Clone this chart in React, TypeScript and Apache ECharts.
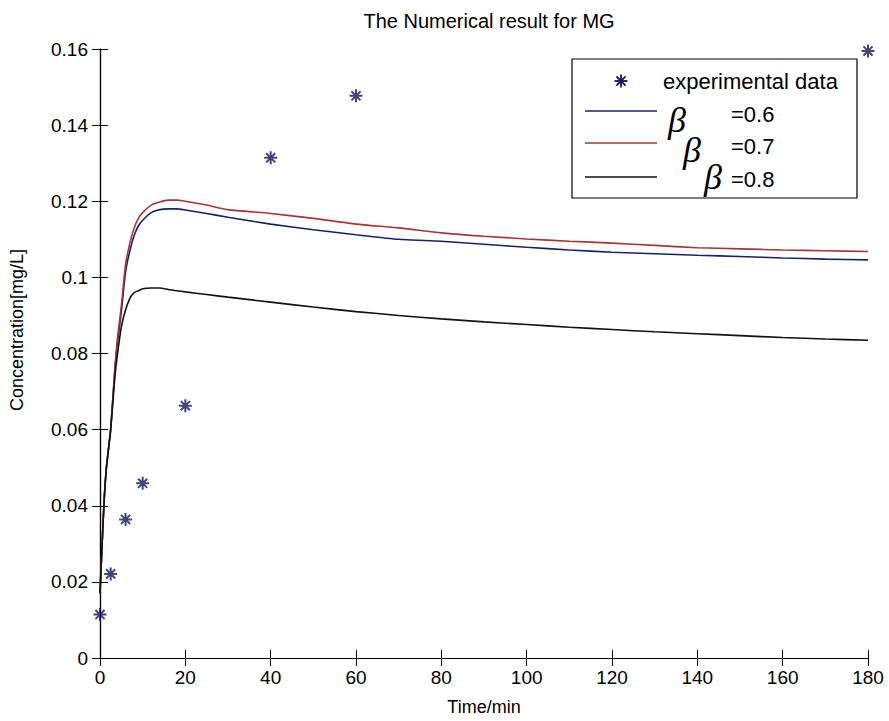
import React, { useEffect, useRef } from "react";
import * as echarts from "echarts";

const expTime = [0, 2.5, 6, 10, 20, 40, 60, 180];
const expConc = [0.0114, 0.0221, 0.0364, 0.0459, 0.0663, 0.1314, 0.1477, 0.1595];

const simTime = [0, 0.5, 1, 1.5, 2, 2.5, 3, 3.5, 4, 5, 6, 7, 8, 9, 10, 12, 14, 16, 18, 20, 25, 30, 40, 50, 60, 70, 80, 90, 100, 110, 120, 130, 140, 150, 160, 170, 180];
const beta06 = [0.017, 0.03, 0.042, 0.05, 0.055, 0.06, 0.068, 0.076, 0.082, 0.091, 0.1015, 0.107, 0.111, 0.1135, 0.115, 0.117, 0.1178, 0.118, 0.118, 0.1177, 0.1168, 0.1158, 0.114, 0.1125, 0.1112, 0.11, 0.1095, 0.1087, 0.1079, 0.1072, 0.1066, 0.1062, 0.1058, 0.1055, 0.1051, 0.1048, 0.1046];
const beta07 = [0.017, 0.03, 0.042, 0.05, 0.055, 0.06, 0.068, 0.076, 0.083, 0.0925, 0.1035, 0.109, 0.113, 0.1155, 0.117, 0.119, 0.1198, 0.1203, 0.1203, 0.12, 0.119, 0.1178, 0.1168, 0.1155, 0.114, 0.113, 0.1117, 0.1108, 0.1101, 0.1095, 0.109, 0.1084, 0.1078, 0.1075, 0.1072, 0.107, 0.1068];
const beta08 = [0.017, 0.03, 0.042, 0.05, 0.055, 0.06, 0.067, 0.074, 0.079, 0.087, 0.0915, 0.0945, 0.096, 0.0965, 0.097, 0.0972, 0.0972, 0.0968, 0.0965, 0.0962, 0.0955, 0.0948, 0.0935, 0.0922, 0.091, 0.09, 0.0891, 0.0883, 0.0876, 0.0869, 0.0863, 0.0857, 0.0852, 0.0847, 0.0842, 0.0838, 0.0835];

const legendLabels = ["experimental data", "=0.6", "=0.7", "=0.8"];

const STAR = "#14145e";
const BLUE = "#18206e";
const RED = "#a83434";
const BLACK = "#111111";
const FONT = "Liberation Sans, Arial, sans-serif";

const asterisk = "path://M0,-10L0,10M-10,0L10,0M-7,-7L7,7M-7,7L7,-7";

function starLines(cx: number, cy: number, r: number, color: string) {
  const d = r * 0.7;
  const segs = [
    [cx, cy - r, cx, cy + r],
    [cx - r, cy, cx + r, cy],
    [cx - d, cy - d, cx + d, cy + d],
    [cx - d, cy + d, cx + d, cy - d],
  ];
  return segs.map((s) => ({
    type: "line",
    shape: { x1: s[0], y1: s[1], x2: s[2], y2: s[3] },
    style: { stroke: color, lineWidth: 1.8 },
  }));
}

export default function App() {
  const ref = useRef<HTMLDivElement>(null);
  useEffect(() => {
    if (!ref.current) return;
    const chart = echarts.init(ref.current, null, { renderer: "svg" });
    const pairs = (ys: number[]) => simTime.map((t, i) => [t, ys[i]]);
    const axisCommon = {
      min: 0,
      axisLine: { show: true, lineStyle: { color: "#000", width: 1.2 } },
      axisTick: { show: true, inside: true, length: 8, lineStyle: { color: "#000" } },
      splitLine: { show: false },
    };
    const lx = 585, rx = 657;
    const betaStyle = { text: "β", fontFamily: "Liberation Serif, serif", fontStyle: "italic", fontSize: 36, fill: "#000", align: "center", verticalAlign: "middle" };
    chart.setOption({
      animation: false,
      backgroundColor: "#fff",
      title: {
        text: "The Numerical result for MG",
        left: 484,
        top: 6,
        textAlign: "center",
        textStyle: { fontFamily: FONT, fontSize: 20, fontWeight: "normal", color: "#000" },
      },
      grid: { left: 100, right: 21, top: 49, bottom: 63 },
      xAxis: [
        {
          ...axisCommon,
          type: "value",
          max: 180,
          interval: 20,
          position: "bottom",
          name: "Time/min",
          nameLocation: "middle",
          nameGap: 40,
          nameTextStyle: { fontFamily: FONT, fontSize: 18, color: "#000" },
          axisLabel: { fontFamily: FONT, fontSize: 19, color: "#000", margin: 10 },
        },
        {
          ...axisCommon,
          type: "value",
          max: 180,
          interval: 20,
          position: "top",
          axisLabel: { show: false },
        },
      ],
      yAxis: [
        {
          ...axisCommon,
          type: "value",
          max: 0.16,
          interval: 0.02,
          position: "left",
          axisLabel: {
            fontFamily: FONT,
            fontSize: 19,
            color: "#000",
            margin: 12,
            formatter: (v: number) => String(+v.toFixed(2)),
          },
        },
        {
          ...axisCommon,
          type: "value",
          max: 0.16,
          interval: 0.02,
          position: "right",
          axisLabel: { show: false },
        },
      ],
      series: [
        {
          name: "beta=0.6",
          type: "line",
          data: pairs(beta06),
          showSymbol: false,
          smooth: 0.2,
          lineStyle: { color: BLUE, width: 1.6 },
          itemStyle: { color: BLUE },
        },
        {
          name: "beta=0.7",
          type: "line",
          data: pairs(beta07),
          showSymbol: false,
          smooth: 0.2,
          lineStyle: { color: RED, width: 1.6 },
          itemStyle: { color: RED },
        },
        {
          name: "beta=0.8",
          type: "line",
          data: pairs(beta08),
          showSymbol: false,
          smooth: 0.2,
          lineStyle: { color: BLACK, width: 1.6 },
          itemStyle: { color: BLACK },
        },
        {
          name: "experimental data",
          type: "scatter",
          data: expTime.map((t, i) => [t, expConc[i]]),
          symbol: asterisk,
          symbolSize: 13,
          itemStyle: { color: "transparent", borderColor: STAR, borderWidth: 2 },
          z: 5,
        },
      ],
      graphic: [
        {
          type: "text",
          x: 17,
          y: 330,
          rotation: Math.PI / 2,
          style: { text: "Concentration[mg/L]", fontFamily: FONT, fontSize: 18, fill: "#000", align: "center", verticalAlign: "middle" },
        },
        {
          type: "rect",
          shape: { x: 572, y: 59, width: 285, height: 139 },
          style: { fill: "#fff", stroke: "#000", lineWidth: 1.2 },
          z: 10,
        },
        ...starLines(621, 81, 6.5, STAR).map((g) => ({ ...g, z: 11 })),
        {
          type: "text",
          x: 663,
          y: 81,
          z: 11,
          style: { text: legendLabels[0], fontFamily: FONT, fontSize: 22, fill: "#000", verticalAlign: "middle" },
        },
        { type: "line", z: 11, shape: { x1: lx, y1: 111, x2: rx, y2: 111 }, style: { stroke: BLUE, lineWidth: 1.6 } },
        { type: "line", z: 11, shape: { x1: lx, y1: 143, x2: rx, y2: 143 }, style: { stroke: RED, lineWidth: 1.6 } },
        { type: "line", z: 11, shape: { x1: lx, y1: 177, x2: rx, y2: 177 }, style: { stroke: BLACK, lineWidth: 1.6 } },
        { type: "text", x: 677, y: 120, z: 11, style: betaStyle },
        { type: "text", x: 692, y: 150, z: 11, style: betaStyle },
        { type: "text", x: 713, y: 177, z: 11, style: betaStyle },
        {
          type: "text", x: 731, y: 114, z: 11,
          style: { text: legendLabels[1], fontFamily: FONT, fontSize: 22, fill: "#000", verticalAlign: "middle" },
        },
        {
          type: "text", x: 731, y: 146, z: 11,
          style: { text: legendLabels[2], fontFamily: FONT, fontSize: 22, fill: "#000", verticalAlign: "middle" },
        },
        {
          type: "text", x: 731, y: 179, z: 11,
          style: { text: legendLabels[3], fontFamily: FONT, fontSize: 22, fill: "#000", verticalAlign: "middle" },
        },
      ],
    });
    return () => chart.dispose();
  }, []);
  return (
    <div
      ref={ref}
      style={{ position: "fixed", left: 0, top: 0, width: 889, height: 721, background: "#fff" }}
    />
  );
}
